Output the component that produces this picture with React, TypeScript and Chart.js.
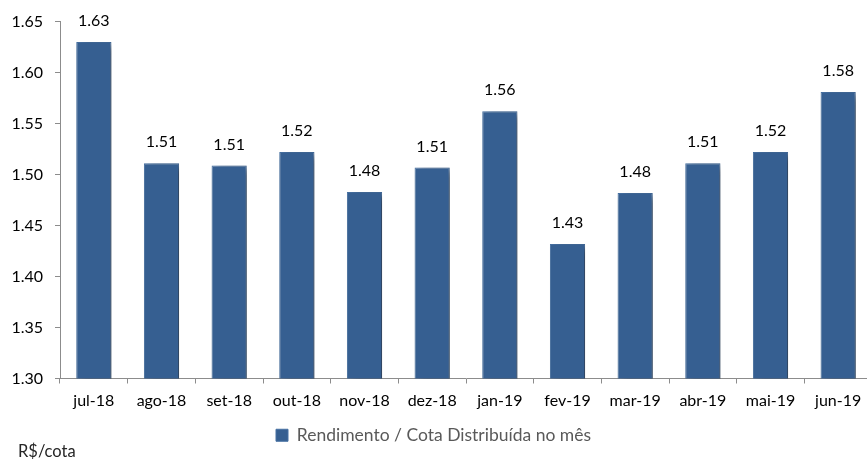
import React, { useEffect, useRef } from "react";
import { Chart, registerables } from "chart.js";

Chart.register(...registerables);

const categories = ["jul-18", "ago-18", "set-18", "out-18", "nov-18", "dez-18", "jan-19", "fev-19", "mar-19", "abr-19", "mai-19", "jun-19"];
const values = [1.63, 1.511, 1.509, 1.522, 1.483, 1.507, 1.562, 1.432, 1.482, 1.511, 1.522, 1.581];
const seriesLabel = "Rendimento / Cota Distribuída no mês";
const unitLabel = "R$/cota";
const yMin = 1.3;
const yMax = 1.65;
const yStep = 0.05;

const FONT = "Lato, 'Open Sans', sans-serif";
const BAR = "#365F91";
const AXIS = "#8C8C8C";

export default function App() {
  const ref = useRef<HTMLCanvasElement | null>(null);

  useEffect(() => {
    if (!ref.current) return;
    const legendPad = 13;
    const shadowAndLabels = {
      id: "shadowAndLabels",
      afterLayout(chart: any) {
        const lg = chart.legend;
        if (lg) {
          const w = lg.right - lg.left;
          lg.left = 276 - legendPad;
          lg.right = lg.left + w;
        }
      },
      beforeDatasetsDraw(chart: any) {
        const ctx = chart.ctx;
        ctx.save();
        ctx.shadowColor = "rgba(0,0,0,0.5)";
        ctx.shadowBlur = 8;
        ctx.shadowOffsetX = 5;
        ctx.shadowOffsetY = 3;
      },
      afterDatasetsDraw(chart: any) {
        const ctx = chart.ctx;
        ctx.restore();
        const meta = chart.getDatasetMeta(0);
        ctx.save();
        ctx.font = `16px ${FONT}`;
        ctx.fillStyle = "#000";
        ctx.textAlign = "center";
        ctx.textBaseline = "middle";
        meta.data.forEach((bar: any, i: number) => {
          ctx.fillText(values[i].toFixed(2), bar.x, bar.y - 21);
        });
        ctx.restore();
      },
      afterDraw(chart: any) {
        const ctx = chart.ctx;
        ctx.save();
        ctx.font = `16.5px ${FONT}`;
        ctx.fillStyle = "#262626";
        ctx.textAlign = "left";
        ctx.textBaseline = "middle";
        ctx.fillText(unitLabel, 18, 452);
        ctx.restore();
      },
    };

    const chart = new Chart(ref.current, {
      type: "bar",
      data: {
        labels: categories,
        datasets: [
          {
            label: seriesLabel,
            data: values,
            backgroundColor: BAR,
            borderColor: "#4670A2",
            borderWidth: 1,
            barPercentage: 0.52,
            categoryPercentage: 1,
          },
        ],
      },
      options: {
        responsive: false,
        animation: false,
        devicePixelRatio: 1,
        layout: { padding: { top: 17, left: 0, right: 4, bottom: 6 } },
        plugins: {
          tooltip: { enabled: false },
          legend: {
            position: "bottom",
            align: "start",
            labels: {
              boxWidth: 12,
              boxHeight: 12,
              padding: legendPad,
              color: "#595959",
              font: { family: FONT, size: 17.5 },
            },
          },
        },
        scales: {
          x: {
            grid: { display: true, drawOnChartArea: false, drawTicks: true, tickLength: 5, color: AXIS, offset: true },
            border: { display: true, color: AXIS, width: 1 },
            ticks: { color: "#000", font: { family: FONT, size: 16 }, padding: 8, maxRotation: 0 },
            afterFit(scale: any) {
              scale.height = 35;
            },
          },
          y: {
            min: yMin,
            max: yMax,
            grid: { display: true, drawOnChartArea: false, drawTicks: true, tickLength: 5, color: AXIS },
            border: { display: true, color: AXIS, width: 1 },
            ticks: {
              stepSize: yStep,
              color: "#000",
              font: { family: FONT, size: 16 },
              padding: 12,
              callback: (v: any) => Number(v).toFixed(2),
            },
            afterFit(scale: any) {
              scale.width = 60;
            },
          },
        },
      },
      plugins: [shadowAndLabels],
    } as any);
    return () => chart.destroy();
  }, []);

  return (
    <div style={{ position: "absolute", left: 0, top: 0, width: 867, height: 460, overflow: "hidden", background: "#fff" }}>
      <canvas ref={ref} width={876} height={460} />
    </div>
  );
}
